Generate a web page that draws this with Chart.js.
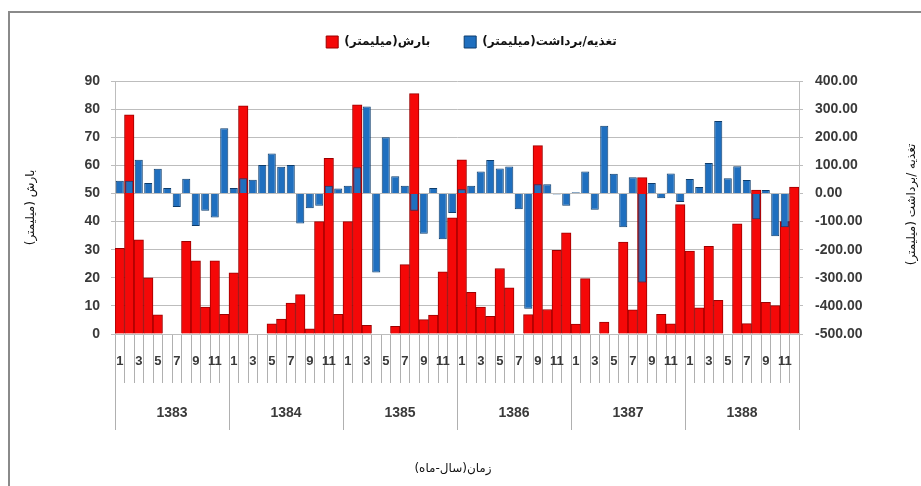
<!DOCTYPE html>
<html>
<head>
<meta charset="utf-8">
<script src="https://cdn.jsdelivr.net/npm/chart.js@4.4.0/dist/chart.umd.min.js"></script>
<style>
  html, body { margin: 0; padding: 0; background: #fff; }
  #wrap { position: relative; width: 921px; height: 486px; }
</style>
</head>
<body>
<div id="wrap"><canvas id="chart"></canvas></div>
<script>
// years and months of the category axis
const years = ['1383', '1384', '1385', '1386', '1387', '1388'];
const monthNumbers = ['1', '2', '3', '4', '5', '6', '7', '8', '9', '10', '11', '12'];

// precipitation (mm), left axis
const precipitation = [
  30.5, 78, 33.5, 20, 6.8, 0, 0, 33, 26, 9.6, 26, 7,
  21.8, 81.2, 0, 0, 3.6, 5.3, 11, 14, 1.8, 40, 62.5, 7,
  40, 81.5, 3.1, 0, 0, 2.7, 24.7, 85.5, 5.1, 6.7, 22.1, 41.3,
  62, 14.8, 9.6, 6.3, 23.3, 16.4, 0, 6.9, 67, 8.7, 29.8, 36,
  3.5, 19.7, 0, 4.2, 0, 32.7, 8.6, 55.6, 0, 7, 3.6, 46,
  29.5, 9.3, 31.2, 12, 0, 39.2, 3.7, 51.2, 11.3, 10.1, 40, 52.3
];

// recharge / discharge (mm), right axis
const recharge = [
  45, 45, 120, 37, 88, 19, -48, 52, -116, -62, -86, 232,
  19, 54, 49, 101, 142, 95, 101, -107, -53, -44, 27, 18,
  27, 93, 309, -281, 200, 61, 27, -62, -143, 19, -163, -70,
  15, 27, 78, 119, 89, 96, -56, -410, 33, 33, -4, -44,
  4, 78, -58, 241, 70, -120, 58, -317, 37, -17, 71, -30,
  51, 23, 108, 258, 54, 97, 48, -92, 12, -152, -120, 0
];

const leftMin = 0, leftMax = 90, leftStep = 10;
const rightMin = -500, rightMax = 400, rightStep = 100;

const monthLabels = years.flatMap(() => monthNumbers);

const tickColor = '#3a3a3a';
const gridColor = '#bdbdbd';
const numFont = "'Liberation Sans', Arial, sans-serif";
const faFont = "'DejaVu Sans', sans-serif";
const RLM = '\u200F';

// grey frame of the chart object
const frame = {
  id: 'frame',
  beforeDraw(chart) {
    const c = chart.ctx;
    c.save();
    c.strokeStyle = '#8a8a8a';
    c.lineWidth = 2;
    c.beginPath();
    c.moveTo(9, 486);
    c.lineTo(9, 12);
    c.lineTo(921, 12);
    c.stroke();
    c.restore();
  }
};

// move the legend to where it sits in the original
const legendPlace = {
  id: 'legendPlace',
  afterLayout(chart) {
    const lg = chart.legend;
    const dy = 42 - (lg.top + lg.options.labels.padding + 6);
    lg.top += dy; lg.bottom += dy;
    lg.left += 11; lg.right += 11;
  }
};

// axis titles (both vertical ones read the same way, like Excel)
const axisTitles = {
  id: 'axisTitles',
  afterDraw(chart) {
    const c = chart.ctx;
    const {left, right, top, bottom} = chart.chartArea;
    c.save();
    c.fillStyle = '#111';
    c.font = '12px ' + faFont;
    c.direction = 'rtl';
    c.textAlign = 'center';
    c.textBaseline = 'middle';
    c.save();
    c.translate(31, (top + bottom) / 2);
    c.rotate(-Math.PI / 2);
    c.fillText('بارش (میلیمتر)', 0, 0);
    c.restore();
    c.save();
    c.translate(912, (top + bottom) / 2 - 3);
    c.rotate(-Math.PI / 2);
    c.fillText('تغذیه /برداشت (میلیمتر)', 0, 0);
    c.restore();
    c.fillText('زمان(سال-ماه)', (left + right) / 2 - 4, 469);
    c.restore();
  }
};

new Chart(document.getElementById('chart'), {
  type: 'bar',
  data: {
    labels: monthLabels,
    datasets: [
      {
        label: RLM + 'تغذیه/برداشت(میلیمتر)' + RLM,
        data: recharge,
        yAxisID: 'y1',
        backgroundColor: '#1f6fbf',
        borderColor: '#0e3d6c',
        borderWidth: 1,
        barPercentage: 0.85,
        categoryPercentage: 1,
        grouped: false
      },
      {
        label: RLM + 'بارش(میلیمتر)' + RLM,
        data: precipitation,
        yAxisID: 'y',
        backgroundColor: '#f50808',
        borderColor: '#9c0000',
        borderWidth: 1,
        barPercentage: 1,
        categoryPercentage: 1,
        grouped: false
      }
    ]
  },
  options: {
    responsive: true,
    maintainAspectRatio: false,
    animation: false,
    layout: { padding: { top: 0, left: 0, right: 0, bottom: 51 } },
    plugins: {
      tooltip: { enabled: false },
      legend: {
        position: 'top',
        reverse: true,
        labels: {
          boxWidth: 12,
          boxHeight: 12,
          padding: 34,
          color: '#111',
          font: { family: faFont, size: 12, weight: 'bold' }
        }
      }
    },
    scales: {
      x: {
        type: 'category',
        position: 'bottom',
        weight: 0,
        offset: true,
        grid: { offset: true, drawOnChartArea: false, tickLength: 49, color: '#b0b0b0' },
        border: { display: true, color: gridColor },
        ticks: {
          autoSkip: false, maxRotation: 0, minRotation: 0, padding: -29,
          color: tickColor,
          font: { family: numFont, size: 13, weight: 'bold' },
          callback(v, i) { return i % 2 === 0 ? this.getLabelForValue(v) : ''; }
        },
        afterFit(s) { s.height = 49; }
      },
      x2: {
        type: 'category',
        labels: years,
        position: 'bottom',
        weight: 1,
        offset: true,
        grid: { offset: true, drawOnChartArea: false, tickLength: 47, color: '#b0b0b0' },
        border: { display: false },
        ticks: {
          autoSkip: false, maxRotation: 0, minRotation: 0, padding: -25,
          color: tickColor,
          font: { family: numFont, size: 14, weight: 'bold' }
        },
        afterFit(s) { s.height = 52; }
      },
      y: {
        position: 'left',
        min: leftMin,
        max: leftMax,
        grid: { color: gridColor, tickLength: 4 },
        border: { color: gridColor },
        ticks: {
          stepSize: leftStep, padding: 11, color: tickColor,
          font: { family: numFont, size: 14, weight: 'bold' }
        },
        afterFit(s) { s.width = 115; s.paddingTop = 81; }
      },
      y1: {
        position: 'right',
        min: rightMin,
        max: rightMax,
        grid: { drawOnChartArea: false, tickLength: 4, color: gridColor },
        border: { color: gridColor },
        ticks: {
          stepSize: rightStep, padding: 12, color: tickColor,
          font: { family: numFont, size: 14, weight: 'bold' },
          callback: v => v.toFixed(2)
        },
        afterFit(s) { s.width = 122; }
      }
    }
  },
  plugins: [frame, legendPlace, axisTitles]
});
</script>
</body>
</html>
